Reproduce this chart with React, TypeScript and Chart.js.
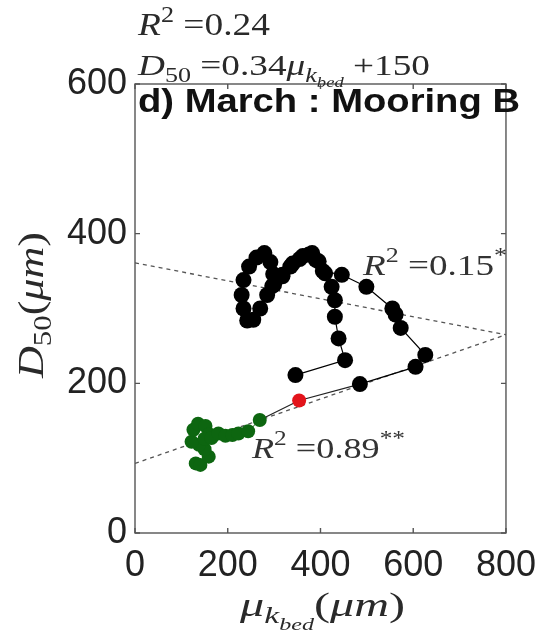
import React, { useEffect, useRef } from "react";
import { Chart, registerables } from "chart.js";
Chart.register(...registerables);

// ---- data ----
const greenX = [131, 141, 159, 150, 138, 122, 126, 136, 152, 160, 150, 165, 180, 195, 210, 223, 244, 269];
const greenY = [93, 91, 102, 112, 118, 122, 138, 146, 143, 132, 126, 127, 133, 130, 131, 133, 136, 151];
const redX = [354];
const redY = [177];
const blackX = [485, 605, 626, 573, 562, 555, 499, 446, 405, 390, 375, 355, 335, 318, 300, 285, 270, 255, 242, 234, 230, 234, 246, 262, 279, 292, 298, 296, 318, 340, 362, 382, 396, 410, 424, 431, 431, 439, 453, 346];
const blackY = [199, 222, 238, 274, 292, 300, 329, 345, 350, 365, 372, 366, 356, 343, 332, 318, 300, 285, 284, 300, 318, 338, 356, 368, 374, 362, 346, 330, 345, 360, 370, 374, 363, 347, 329, 311, 289, 260, 231, 211];
const xTicks = [0, 200, 400, 600, 800];
const yTicks = [0, 200, 400, 600];
const fitBlackSlope = -0.12;
const fitBlackIntercept = 361;
const fitGreenSlope = 0.215;
const fitGreenIntercept = 93;
const xMin = 0, xMax = 800, yMin = 0, yMax = 600;

type Seg = { t: string; it?: boolean; lvl?: number };

const SERIF = '"Liberation Serif", "DejaVu Serif", serif';

function segFont(s: Seg, size: number) {
  const lvl = s.lvl || 0;
  const f = lvl === 0 ? 1 : lvl === -2 ? 0.5 : 0.7;
  return { font: `${s.it ? "italic " : ""}${Math.round(size * f * 10) / 10}px ${SERIF}`, shift: lvl === 1 ? -size * 0.42 : lvl === -1 ? size * 0.22 : lvl === -2 ? size * 0.4 : 0 };
}

function measureMath(ctx: CanvasRenderingContext2D, segs: Seg[], size: number) {
  let w = 0;
  for (const s of segs) {
    ctx.font = segFont(s, size).font;
    w += ctx.measureText(s.t).width;
  }
  return w;
}

// draws math-like text starting at x (left) with baseline y, stretched to width w
function drawMath(ctx: CanvasRenderingContext2D, segs: Seg[], x: number, y: number, size: number, w: number, color: string) {
  const nat = measureMath(ctx, segs, size);
  const sx = w / nat;
  ctx.save();
  ctx.translate(x, y);
  ctx.scale(sx, 1);
  ctx.fillStyle = color;
  ctx.textBaseline = "alphabetic";
  ctx.textAlign = "left";
  let cx = 0;
  for (const s of segs) {
    const { font, shift } = segFont(s, size);
    ctx.font = font;
    ctx.fillText(s.t, cx, shift);
    cx += ctx.measureText(s.t).width;
  }
  ctx.restore();
}

const decoPlugin = {
  id: "deco",
  afterDraw(chart: any) {
    const ctx: CanvasRenderingContext2D = chart.ctx;
    const { left, right, top, bottom } = chart.chartArea;
    const xs = chart.scales.x;
    const ys = chart.scales.y;
    ctx.save();
    ctx.strokeStyle = "#555";
    ctx.lineWidth = 1.4;
    ctx.strokeRect(left, top, right - left, bottom - top);
    const tl = 5;
    ctx.beginPath();
    for (const v of xTicks) {
      const px = xs.getPixelForValue(v);
      ctx.moveTo(px, bottom); ctx.lineTo(px, bottom - tl);
      ctx.moveTo(px, top); ctx.lineTo(px, top + tl);
    }
    for (const v of yTicks) {
      const py = ys.getPixelForValue(v);
      ctx.moveTo(left, py); ctx.lineTo(left + tl, py);
      ctx.moveTo(right, py); ctx.lineTo(right - tl, py);
    }
    ctx.stroke();
    ctx.restore();

    const txt = "#2a2a2a";
    // top annotations
    drawMath(ctx, [{ t: "R", it: true }, { t: "2", lvl: 1 }, { t: " =0.24" }], 138, 35, 32, 132, txt);
    drawMath(ctx, [{ t: "D", it: true }, { t: "50", lvl: -1 }, { t: " =0.34" }, { t: "μ", it: true }, { t: "k", it: true, lvl: -1 }, { t: "bed", it: true, lvl: -2 }, { t: " +150" }], 138, 75, 30, 292, txt);
    // title
    ctx.save();
    ctx.font = 'bold 33px "Liberation Sans", Arial, sans-serif';
    const tw = ctx.measureText("d) March : Mooring B").width;
    ctx.translate(138, 112);
    ctx.scale(382 / tw, 1);
    ctx.fillStyle = "#111";
    ctx.textBaseline = "alphabetic";
    ctx.fillText("d) March : Mooring B", 0, 0);
    ctx.restore();
    // in-plot R^2
    drawMath(ctx, [{ t: "R", it: true }, { t: "2", lvl: 1 }, { t: " =0.15" }, { t: "*", lvl: 1 }], 363, 275, 30, 144, "#333");
    drawMath(ctx, [{ t: "R", it: true }, { t: "2", lvl: 1 }, { t: " =0.89" }, { t: "**", lvl: 1 }], 252, 458, 30, 153, "#333");
    // x title
    const xt: Seg[] = [{ t: "μ", it: true }, { t: "k", it: true, lvl: -1 }, { t: "bed", it: true, lvl: -2 }, { t: "(" }, { t: "μm", it: true }, { t: ")" }];
    drawMath(ctx, xt, 240, 616, 34, 165, txt);
    // y title
    const yt: Seg[] = [{ t: "D", it: true }, { t: "50", lvl: -1 }, { t: "(" }, { t: "μm", it: true }, { t: ")" }];
    ctx.save();
    ctx.translate(43, 305);
    ctx.rotate(-Math.PI / 2);
    drawMath(ctx, yt, -73, 0, 35, 146, txt);
    ctx.restore();
  },
};

export default function App() {
  const ref = useRef<HTMLCanvasElement | null>(null);
  useEffect(() => {
    document.body.style.margin = "0";
    const canvas = ref.current!;
    const pts = (xs: number[], ys: number[]) => xs.map((x, i) => ({ x, y: ys[i] }));
    const fitLine = (m: number, b: number) => [{ x: xMin, y: b + m * xMin }, { x: xMax, y: b + m * xMax }];
    const connector = [
      { x: greenX[greenX.length - 1], y: greenY[greenY.length - 1] },
      { x: redX[0], y: redY[0] },
      { x: blackX[0], y: blackY[0] },
    ];
    const tickFont = { family: '"Liberation Sans", Arial, sans-serif', size: 36 };
    const chart = new Chart(canvas, {
      type: "scatter",
      data: {
        datasets: [
          { data: pts(redX, redY), backgroundColor: "#e3141b", borderColor: "#e3141b", pointRadius: 7, pointBorderWidth: 0, showLine: false, order: 0 } as any,
          { data: pts(greenX, greenY), backgroundColor: "#0d6610", borderColor: "#1a5a1a", pointRadius: 7, pointBorderWidth: 0, showLine: true, borderWidth: 1, order: 1 } as any,
          { data: pts(blackX, blackY), backgroundColor: "#000", borderColor: "#000", pointRadius: 8, pointBorderWidth: 0, showLine: true, borderWidth: 1.2, order: 2 } as any,
          { data: connector, borderColor: "#222", pointRadius: 0, showLine: true, borderWidth: 1.2, order: 3 } as any,
          { data: fitLine(fitBlackSlope, fitBlackIntercept), borderColor: "#555", borderDash: [4, 4], pointRadius: 0, showLine: true, borderWidth: 1.3, order: 10 } as any,
          { data: fitLine(fitGreenSlope, fitGreenIntercept), borderColor: "#555", borderDash: [4, 4], pointRadius: 0, showLine: true, borderWidth: 1.3, order: 10 } as any,
        ],
      },
      options: {
        responsive: false,
        animation: false,
        devicePixelRatio: 1,
        layout: { padding: { left: 0, top: 84, right: 35, bottom: 0 } },
        plugins: { legend: { display: false }, tooltip: { enabled: false } },
        scales: {
          x: {
            type: "linear", min: xMin, max: xMax,
            grid: { display: false, drawTicks: false },
            border: { display: false },
            afterBuildTicks: (s: any) => { s.ticks = xTicks.map((v) => ({ value: v })); },
            afterFit: (s: any) => { s.height = 97; },
            ticks: { color: "#222", padding: 11, maxRotation: 0, autoSkip: false, font: tickFont },
          },
          y: {
            type: "linear", min: yMin, max: yMax,
            grid: { display: false, drawTicks: false },
            border: { display: false },
            afterBuildTicks: (s: any) => { s.ticks = yTicks.map((v) => ({ value: v })); },
            afterFit: (s: any) => { s.width = 135; },
            ticks: { color: "#222", padding: 8, autoSkip: false, font: tickFont },
          },
        },
      },
      plugins: [decoPlugin],
    } as any);
    return () => chart.destroy();
  }, []);
  return (
    <div style={{ position: "absolute", left: 0, top: 0, width: 547, height: 630, background: "#fff" }}>
      <canvas ref={ref} width={547} height={630} style={{ width: 547, height: 630, display: "block" }} />
    </div>
  );
}
